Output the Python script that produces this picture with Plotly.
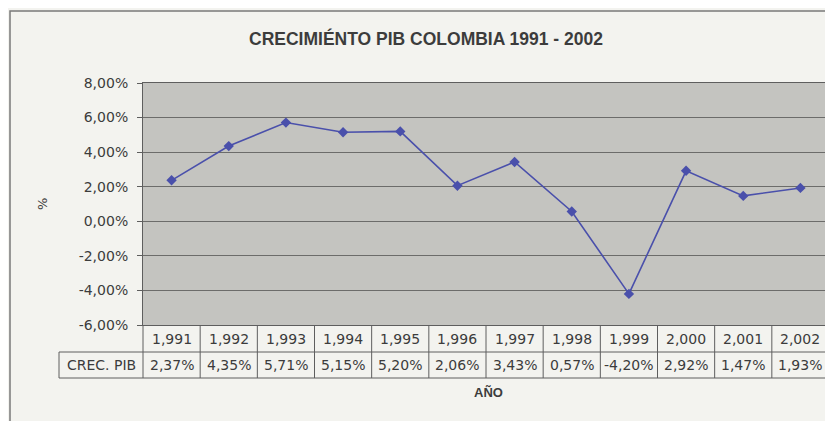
import plotly.graph_objects as go

years = [1991, 1992, 1993, 1994, 1995, 1996, 1997, 1998, 1999, 2000, 2001, 2002]
crec_pib = [2.37, 4.35, 5.71, 5.15, 5.20, 2.06, 3.43, 0.57, -4.20, 2.92, 1.47, 1.93]
y_tick_vals = [-6, -4, -2, 0, 2, 4, 6, 8]
y_tick_text = ["-6,00%", "-4,00%", "-2,00%", "0,00%", "2,00%", "4,00%", "6,00%", "8,00%"]
title_text = "CRECIMIÉNTO PIB COLOMBIA 1991 - 2002"
row_label = "CREC. PIB"
x_title = "AÑO"
y_title = "%"

# page body has an 8px margin: figure is offset by 8px in the window
OFF = 8
W, H = 833 - OFF, 421 - OFF
L, R, T, B = 143 - OFF, 829 - OFF, 83 - OFF, 325 - OFF
pw, ph = R - L, B - T


def px_x(p):
    return (p - OFF - L) / pw


def px_y(p):
    return (B - (p - OFF)) / ph


FONT = "DejaVu Sans"
TXT = "#3c3c3c"
LINE = "#4a50ab"
BORDER = "#5e5e5e"

fig = go.Figure()
fig.add_trace(go.Scatter(
    x=years, y=crec_pib, mode="lines+markers",
    line=dict(color=LINE, width=1.6),
    marker=dict(symbol="diamond", size=8, color=LINE),
    showlegend=False, hoverinfo="skip"))

shapes = []
annotations = []

# outer frame
shapes.append(dict(type="rect", xref="paper", yref="paper",
                   x0=px_x(10), x1=px_x(845), y0=px_y(440), y1=px_y(11),
                   line=dict(color="#7a7a7a", width=1.5), fillcolor="rgba(0,0,0,0)", layer="below"))

row1_bot = px_y(352)
row2_bot = px_y(378)
hdr_left = px_x(59)

for yy in (row1_bot, row2_bot):
    shapes.append(dict(type="line", xref="paper", yref="paper", x0=hdr_left, x1=1,
                       y0=yy, y1=yy, line=dict(color=BORDER, width=1)))
shapes.append(dict(type="line", xref="paper", yref="paper", x0=hdr_left, x1=hdr_left,
                   y0=row1_bot, y1=row2_bot, line=dict(color=BORDER, width=1)))
for xx in (0, 1):
    shapes.append(dict(type="line", xref="paper", yref="paper", x0=xx, x1=xx,
                       y0=0, y1=row2_bot, line=dict(color=BORDER, width=1)))
for yr in years[:-1]:
    shapes.append(dict(type="line", xref="x", yref="paper", x0=yr + 0.5, x1=yr + 0.5,
                       y0=0, y1=row2_bot, line=dict(color=BORDER, width=1)))

cell = dict(showarrow=False, xanchor="center", yanchor="middle")
for yr, v in zip(years, crec_pib):
    annotations.append(dict(x=yr, y=px_y(339), xref="x", yref="paper", text=f"{yr:,}",
                            font=dict(family=FONT, size=14, color=TXT), **cell))
    annotations.append(dict(x=yr, y=px_y(365), xref="x", yref="paper",
                            text=f"{v:.2f}".replace(".", ",") + "%",
                            font=dict(family=FONT, size=14, color=TXT), **cell))

annotations.append(dict(x=px_x(101.5), y=px_y(365), xref="paper", yref="paper", text=row_label,
                        font=dict(family=FONT, size=14, color=TXT), **cell))
annotations.append(dict(x=px_x(426), y=px_y(38), xref="paper", yref="paper", text=f"<b>{title_text}</b>",
                        font=dict(family="Liberation Sans", size=17.5, color=TXT), **cell))
annotations.append(dict(x=px_x(488), y=px_y(392), xref="paper", yref="paper", text=f"<b>{x_title}</b>",
                        font=dict(family="Liberation Sans", size=13, color=TXT), **cell))
annotations.append(dict(x=px_x(42), y=0.5, xref="paper", yref="paper", text=y_title, textangle=-90,
                        font=dict(family=FONT, size=13, color=TXT), **cell))

fig.update_layout(
    width=W, height=H,
    margin=dict(l=L, r=W - R, t=T, b=H - B, pad=0),
    paper_bgcolor="#f3f3ef", plot_bgcolor="#c4c4c0",
    shapes=shapes, annotations=annotations,
    xaxis=dict(range=[years[0] - 0.5, years[-1] + 0.5], showticklabels=False, showgrid=False,
               zeroline=False, showline=True, mirror=True, linecolor=BORDER, linewidth=1, ticks=""),
    yaxis=dict(range=[-6, 8], tickmode="array", tickvals=y_tick_vals, ticktext=y_tick_text,
               showgrid=True, gridcolor="#6c6c6a", gridwidth=1, zeroline=False, showline=True,
               mirror=True, linecolor=BORDER, linewidth=1, ticks="outside", ticklen=5,
               tickcolor=BORDER, ticklabelstandoff=6,
               tickfont=dict(family=FONT, size=14, color=TXT)),
)

fig.write_html("out.html")
